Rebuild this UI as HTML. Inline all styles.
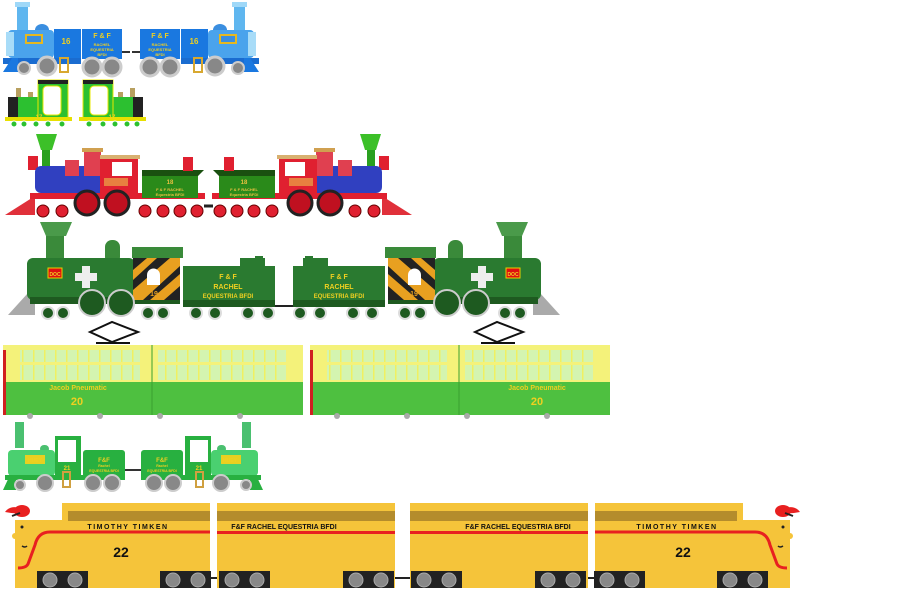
<!DOCTYPE html>
<html><head><meta charset="utf-8"><style>
html,body{margin:0;padding:0;background:#fff;width:900px;height:591px;overflow:hidden}
svg{display:block}
text{font-family:"Liberation Sans",sans-serif;font-weight:bold}
</style></head><body>
<svg width="900" height="591" viewBox="0 0 900 591" xmlns="http://www.w3.org/2000/svg">
<defs>
<pattern id="win" x="0" y="0" width="11" height="40" patternUnits="userSpaceOnUse">
  <rect width="11" height="40" fill="#d4f4b0"/><rect x="0" width="1.5" height="40" fill="#f0f060"/>
</pattern>
<g id="blue">
  <rect x="17" y="2" width="11" height="30" fill="#5fb6ef"/><rect x="15" y="2" width="15" height="5" fill="#9fd8f8"/>
  <ellipse cx="42" cy="30" rx="7" ry="6" fill="#3a8ee0"/>
  <rect x="8" y="30" width="46" height="28" rx="4" fill="#4aa3ec"/>
  <rect x="6" y="32" width="8" height="24" fill="#a8dcf8"/>
  <rect x="25" y="34" width="18" height="10" fill="#e6b820"/><rect x="27" y="36" width="14" height="6" fill="#3a8ee0"/>
  <rect x="54" y="29" width="27" height="31" fill="#1a78e0"/>
  <rect x="82" y="29" width="40" height="30" fill="#1a78e0"/>
  <rect x="3" y="58" width="78" height="6" fill="#1a6cd0"/>
  <polygon points="3,72 12,58 18,58 18,72" fill="#1a78e0"/>
  <rect x="60" y="58" width="8" height="14" fill="none" stroke="#d8a830" stroke-width="2"/>
  <circle cx="24" cy="68" r="6" fill="#888" stroke="#ccc" stroke-width="2"/>
  <circle cx="47" cy="66" r="9" fill="#888" stroke="#ccc" stroke-width="3"/>
  <circle cx="92" cy="67" r="9" fill="#888" stroke="#ccc" stroke-width="3"/>
  <circle cx="112" cy="67" r="9" fill="#888" stroke="#ccc" stroke-width="3"/>
  <path d="M122 52 h8" stroke="#333" stroke-width="2"/>
</g>
<g id="gsmall">
  <rect x="16" y="88" width="5" height="9" fill="#b8a060"/>
  <rect x="28" y="92" width="5" height="6" fill="#b8a060"/>
  <rect x="8" y="97" width="10" height="20" fill="#222"/>
  <rect x="18" y="97" width="20" height="20" fill="#2cc030"/>
  <rect x="38" y="80" width="30" height="38" fill="#2cc030" stroke="#e8e800" stroke-width="1"/>
  <rect x="38" y="80" width="30" height="4" fill="#222"/>
  <rect x="43" y="86" width="18" height="29" rx="4" fill="#fff" stroke="#e8e800"/>
  <rect x="5" y="117" width="67" height="4" fill="#e8e000"/>
  <g fill="#2cc030" stroke="#fff"><circle cx="14" cy="124" r="3"/><circle cx="24" cy="124" r="3"/><circle cx="36" cy="124" r="3"/><circle cx="48" cy="124" r="3"/><circle cx="62" cy="124" r="3"/></g>
</g>
<g id="red">
  <polygon points="5,215 35,196 35,215" fill="#e0303a"/>
  <rect x="42" y="150" width="8" height="26" fill="#2aa020"/>
  <polygon points="36,134 57,134 52,150 41,150" fill="#3cc028"/>
  <rect x="28" y="156" width="10" height="14" fill="#e02030"/>
  <rect x="35" y="166" width="75" height="27" rx="6" fill="#3040c0"/>
  <rect x="65" y="160" width="14" height="16" fill="#e04050"/>
  <rect x="84" y="150" width="17" height="26" fill="#e04050"/><rect x="82" y="148" width="21" height="4" fill="#d0a050"/>
  <rect x="100" y="157" width="38" height="38" fill="#e02030"/><rect x="100" y="155" width="40" height="4" fill="#d8b070"/>
  <rect x="112" y="162" width="20" height="14" fill="#fff"/>
  <rect x="104" y="178" width="24" height="8" fill="#e88040"/>
  <rect x="30" y="193" width="175" height="6" fill="#e02030"/>
  <g fill="#e02030" stroke="#600" stroke-width="1"><circle cx="43" cy="211" r="6"/><circle cx="62" cy="211" r="6"/><circle cx="145" cy="211" r="6"/><circle cx="163" cy="211" r="6"/><circle cx="180" cy="211" r="6"/><circle cx="197" cy="211" r="6"/></g>
  <g fill="#c01020" stroke="#222" stroke-width="3"><circle cx="87" cy="203" r="12"/><circle cx="117" cy="203" r="12"/></g>
  <polygon points="142,170 204,170 198,176 142,176" fill="#1a5010"/>
  <rect x="142" y="176" width="56" height="22" fill="#2a8a1a"/>
  <rect x="183" y="157" width="10" height="14" fill="#e02030"/>
  <path d="M204 206 h8" stroke="#222" stroke-width="3"/>
</g>
<g id="doc">
  <polygon points="8,315 28,293 35,293 35,315" fill="#aaa"/>
  <rect x="46" y="232" width="18" height="32" fill="#3a8a3a"/>
  <polygon points="40,222 72,222 66,236 46,236" fill="#4a9a4a"/>
  <rect x="105" y="240" width="15" height="24" rx="7" fill="#3a8a3a"/>
  <rect x="27" y="258" width="108" height="42" rx="6" fill="#2a7a30"/>
  <rect x="82" y="266" width="8" height="22" fill="#eee"/><rect x="75" y="273" width="22" height="8" fill="#eee"/>
  <rect x="48" y="268" width="14" height="10" fill="#e01010" stroke="#e8d000"/>
  <rect x="30" y="297" width="150" height="7" fill="#1e5a20"/>
  <rect x="133" y="258" width="47" height="42" fill="#222"/>
  <polygon points="133,290 170,258 180,258 180,266 143,300 133,300" fill="#e8a020"/>
  <polygon points="150,300 180,274 180,286 164,300" fill="#e8a020"/>
  <polygon points="133,270 147,258 157,258 133,280" fill="#e8a020"/>
  <rect x="132" y="247" width="51" height="11" fill="#3a8a3a"/>
  <path d="M147 285 v-10 a6.5 6.5 0 0 1 13 0 v10z" fill="#fff"/>
  <g fill="#1e5a20" stroke="#ccc" stroke-width="2"><circle cx="92" cy="303" r="13"/><circle cx="121" cy="303" r="13"/></g>
  <g fill="#1e5a20" stroke="#ddd" stroke-width="2"><circle cx="48" cy="313" r="6"/><circle cx="63" cy="313" r="6"/><circle cx="148" cy="313" r="6"/><circle cx="163" cy="313" r="6"/><circle cx="196" cy="313" r="6"/><circle cx="215" cy="313" r="6"/><circle cx="248" cy="313" r="6"/><circle cx="268" cy="313" r="6"/></g>
  <rect x="183" y="266" width="92" height="40" fill="#2a7a30"/>
  <rect x="183" y="300" width="92" height="7" fill="#1e5a20"/>
  <rect x="240" y="258" width="25" height="10" fill="#2a7a30"/>
  <rect x="255" y="256" width="8" height="4" fill="#2a7a30"/>
  <path d="M275 306 h10" stroke="#222" stroke-width="2"/>
</g>
<g id="tram">
  <rect x="3" y="345" width="300" height="38" fill="#f4f27a"/>
  <rect x="20" y="350" width="120" height="12" fill="url(#win)"/><rect x="20" y="365" width="120" height="15" fill="url(#win)"/>
  <rect x="158" y="350" width="128" height="12" fill="url(#win)"/><rect x="158" y="365" width="128" height="15" fill="url(#win)"/>
  <rect x="3" y="382" width="300" height="33" fill="#4ec040"/>
  <rect x="3" y="350" width="3" height="65" fill="#d02020"/>
  <path d="M152 345 v70" stroke="#3aa030" stroke-width="1"/>
  <circle cx="30" cy="416" r="3" fill="#aaa"/><circle cx="100" cy="416" r="3" fill="#aaa"/><circle cx="160" cy="416" r="3" fill="#aaa"/><circle cx="240" cy="416" r="3" fill="#aaa"/>
</g>
<g id="hsmall">
  <rect x="15" y="422" width="9" height="26" fill="#4ac070"/>
  <rect x="40" y="445" width="9" height="8" rx="4" fill="#4ac070"/>
  <rect x="8" y="450" width="47" height="26" rx="4" fill="#4ad070"/>
  <rect x="25" y="455" width="20" height="9" fill="#e8d020"/>
  <rect x="55" y="436" width="26" height="42" fill="#28b040"/>
  <rect x="58" y="440" width="18" height="22" fill="#fff"/>
  <rect x="83" y="450" width="42" height="28" rx="3" fill="#28b040"/>
  <rect x="5" y="475" width="120" height="5" fill="#28b040"/>
  <polygon points="3,490 10,475 16,475 16,490" fill="#28b040"/>
  <rect x="63" y="472" width="7" height="15" fill="none" stroke="#d0a040" stroke-width="2"/>
  <g fill="#888" stroke="#ccc" stroke-width="2"><circle cx="20" cy="485" r="5"/><circle cx="45" cy="483" r="8"/><circle cx="93" cy="483" r="8"/><circle cx="112" cy="483" r="8"/></g>
  <path d="M125 470 h8" stroke="#333" stroke-width="2"/>
</g>
<g id="yel1">
  <path d="M15 520 H62 V503 H210 V588 H15Z" fill="#f5c43a"/>
  <rect x="68" y="511" width="142" height="10" fill="#b48c2c"/>
  <path d="M210 532 H50 Q38 532 35 545 L28 564 Q26 568 18 568" fill="none" stroke="#e82020" stroke-width="3"/>
  <path d="M5 512 Q10 505 20 508 L24 513 Q14 514 5 512Z" fill="#e82020"/>
  <ellipse cx="22" cy="511" rx="8" ry="6" fill="#e82020"/>
  <path d="M12 516 l8 -3" stroke="#222" stroke-width="2"/>
  <ellipse cx="15" cy="536" rx="3" ry="3" fill="#f5c43a"/>
  <circle cx="22" cy="527" r="1.5" fill="#222"/>
  <path d="M22 546 q3 2 5 0" stroke="#222" stroke-width="1.5" fill="none"/>
  <rect x="37" y="571" width="51" height="17" fill="#222"/><rect x="160" y="571" width="51" height="17" fill="#222"/>
  <g fill="#888" stroke="#aaa"><circle cx="50" cy="580" r="7"/><circle cx="75" cy="580" r="7"/><circle cx="173" cy="580" r="7"/><circle cx="198" cy="580" r="7"/></g>
</g>
<g id="yel2">
  <rect x="217" y="503" width="178" height="85" fill="#f5c43a"/>
  <rect x="217" y="511" width="178" height="10" fill="#b48c2c"/>
  <rect x="217" y="531" width="178" height="3" fill="#e82020"/>
  <rect x="219" y="571" width="51" height="17" fill="#222"/><rect x="343" y="571" width="51" height="17" fill="#222"/>
  <g fill="#888" stroke="#aaa"><circle cx="232" cy="580" r="7"/><circle cx="257" cy="580" r="7"/><circle cx="356" cy="580" r="7"/><circle cx="381" cy="580" r="7"/></g>
  <path d="M210 578 h7 M395 578 h10" stroke="#222" stroke-width="2"/>
</g>
</defs>

<use href="#blue"/><use href="#blue" transform="translate(262,0) scale(-1,1)"/>
<use href="#gsmall"/><use href="#gsmall" transform="translate(151,0) scale(-1,1)"/>
<use href="#red"/><use href="#red" transform="translate(417,0) scale(-1,1)"/>
<use href="#doc"/><use href="#doc" transform="translate(568,0) scale(-1,1)"/>
<use href="#tram"/><use href="#tram" transform="translate(307,0)"/>
<use href="#hsmall"/><use href="#hsmall" transform="translate(266,0) scale(-1,1)"/>
<use href="#yel1"/><use href="#yel2"/>
<g transform="translate(805,0) scale(-1,1)"><use href="#yel1"/><use href="#yel2"/></g>

<g stroke="#111" stroke-width="2" fill="none">
  <path d="M90 332 L112 322 L138 332 L112 342 Z M96 343 h34"/>
  <path d="M475 332 L497 322 L523 332 L497 342 Z M481 343 h34"/>
</g>

<g fill="#f0d020" text-anchor="middle">
  <text x="66" y="44" font-size="8">16</text>
  <text x="102" y="38" font-size="7">F &amp; F</text>
  <text x="102" y="46" font-size="4">RACHEL</text><text x="102" y="51" font-size="4">EQUESTRIA</text><text x="102" y="56" font-size="4">BFDI</text>
  <text x="160" y="38" font-size="7">F &amp; F</text>
  <text x="160" y="46" font-size="4">RACHEL</text><text x="160" y="51" font-size="4">EQUESTRIA</text><text x="160" y="56" font-size="4">BFDI</text>
  <text x="194" y="44" font-size="8">16</text>
  <text x="39" y="119" font-size="6">17</text><text x="112" y="119" font-size="6">17</text>
  <text x="170" y="184" font-size="6" fill="#e8c040">18</text>
  <text x="170" y="191" font-size="4" fill="#e8c040">F &amp; F RACHEL</text><text x="170" y="196" font-size="4" fill="#e8c040">Equestria BFDI</text>
  <text x="244" y="184" font-size="6" fill="#e8c040">18</text>
  <text x="244" y="191" font-size="4" fill="#e8c040">F &amp; F RACHEL</text><text x="244" y="196" font-size="4" fill="#e8c040">Equestria BFDI</text>
  <text x="55" y="276" font-size="5">DOC</text><text x="513" y="276" font-size="5">DOC</text>
  <text x="154" y="296" font-size="7" fill="#e8a020">19</text><text x="414" y="296" font-size="7" fill="#e8a020">19</text>
  <text x="228" y="279" font-size="7">F &amp; F</text><text x="228" y="289" font-size="7">RACHEL</text><text x="228" y="298" font-size="6">EQUESTRIA BFDI</text>
  <text x="339" y="279" font-size="7">F &amp; F</text><text x="339" y="289" font-size="7">RACHEL</text><text x="339" y="298" font-size="6">EQUESTRIA BFDI</text>
  <text x="78" y="390" font-size="7">Jacob Pneumatic</text><text x="77" y="405" font-size="11">20</text>
  <text x="537" y="390" font-size="7">Jacob Pneumatic</text><text x="537" y="405" font-size="11">20</text>
  <text x="35" y="462" font-size="5">HUEY</text><text x="230" y="462" font-size="5">HUEY</text>
  <text x="67" y="470" font-size="6">21</text><text x="199" y="470" font-size="6">21</text>
  <text x="104" y="462" font-size="6">F&amp;F</text><text x="104" y="467" font-size="3.5">Rachel</text><text x="104" y="472" font-size="3.5">EQUESTRIA BFDI</text>
  <text x="162" y="462" font-size="6">F&amp;F</text><text x="162" y="467" font-size="3.5">Rachel</text><text x="162" y="472" font-size="3.5">EQUESTRIA BFDI</text>
</g>
<g fill="#111" text-anchor="middle">
  <text x="128" y="529" font-size="7" letter-spacing="1.5">TIMOTHY TIMKEN</text>
  <text x="121" y="557" font-size="14">22</text>
  <text x="284" y="529" font-size="7">F&amp;F RACHEL EQUESTRIA BFDI</text>
  <text x="518" y="529" font-size="7">F&amp;F RACHEL EQUESTRIA BFDI</text>
  <text x="677" y="529" font-size="7" letter-spacing="1.5">TIMOTHY TIMKEN</text>
  <text x="683" y="557" font-size="14">22</text>
</g>
</svg>
</body></html>
